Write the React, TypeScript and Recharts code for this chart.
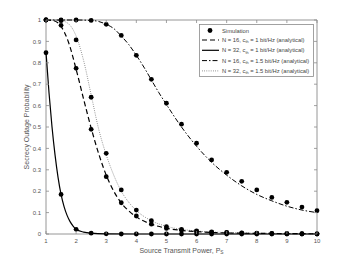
import React from "react";
import {
  ComposedChart,
  Line,
  Scatter,
  XAxis,
  YAxis,
  Legend,
  ReferenceArea,
} from "recharts";

// x positions of the simulation points (0.5 steps)
const simX = [1, 1.5, 2, 2.5, 3, 3.5, 4, 4.5, 5, 5.5, 6, 6.5, 7, 7.5, 8, 8.5, 9, 9.5, 10];

const simN16c1 = [1, 0.975, 0.774, 0.489, 0.268, 0.146, 0.084, 0.046, 0.026, 0.018, 0.012, 0.008, 0.006, 0.004, 0.003, 0.002, 0.002, 0.001, 0.001];
const simN32c1 = [0.847, 0.185, 0.022, 0.004, 0.001, 0, 0, 0, 0, 0, 0, 0, 0, 0, 0, 0, 0, 0, 0];
const simN16c15 = [1, 1, 1, 0.998, 0.98, 0.928, 0.835, 0.723, 0.611, 0.513, 0.424, 0.346, 0.288, 0.246, 0.206, 0.171, 0.148, 0.126, 0.109];
const simN32c15 = [1, 0.997, 0.907, 0.639, 0.377, 0.206, 0.112, 0.062, 0.034, 0.022, 0.015, 0.01, 0.007, 0.005, 0.004, 0.003, 0.002, 0.002, 0.001];

// analytical curves
const solidX = [1, 1.1, 1.2, 1.3, 1.4, 1.5, 1.6, 1.7, 1.8, 1.9, 2, 2.25, 2.5, 3, 4, 6, 10];
const solidY = [0.85, 0.66, 0.5, 0.37, 0.265, 0.185, 0.128, 0.087, 0.058, 0.037, 0.022, 0.009, 0.004, 0.001, 0, 0, 0];

const dashedX = [1, 1.25, 1.5, 1.75, 2, 2.25, 2.5, 2.75, 3, 3.25, 3.5, 3.75, 4, 4.5, 5, 5.5, 6, 7, 8, 9, 10];
const dashedY = [1, 0.997, 0.97, 0.895, 0.77, 0.63, 0.495, 0.375, 0.275, 0.2, 0.145, 0.108, 0.08, 0.046, 0.027, 0.017, 0.011, 0.005, 0.003, 0.002, 0.001];

const dottedX = [1, 1.25, 1.5, 1.75, 2, 2.25, 2.5, 2.75, 3, 3.25, 3.5, 3.75, 4, 4.5, 5, 5.5, 6, 7, 8, 9, 10];
const dottedY = [1, 1, 0.997, 0.982, 0.925, 0.81, 0.65, 0.49, 0.37, 0.275, 0.2, 0.148, 0.11, 0.062, 0.036, 0.022, 0.014, 0.007, 0.004, 0.002, 0.001];

const dashDotX = [1, 2, 2.5, 2.75, 3, 3.25, 3.5, 3.75, 4, 4.25, 4.5, 4.75, 5, 5.5, 6, 6.5, 7, 7.5, 8, 8.5, 9, 9.5, 10];
const dashDotY = [1, 1, 0.998, 0.993, 0.98, 0.96, 0.925, 0.885, 0.835, 0.78, 0.72, 0.66, 0.605, 0.5, 0.41, 0.335, 0.275, 0.225, 0.185, 0.155, 0.13, 0.112, 0.1];

const xTicks = [1, 2, 3, 4, 5, 6, 7, 8, 9, 10];
const yTicks = [0, 0.1, 0.2, 0.3, 0.4, 0.5, 0.6, 0.7, 0.8, 0.9, 1];

const zip = (xs: number[], ys: number[]) => xs.map((x, i) => ({ x, y: ys[i] }));

const W = 350;
const H = 263;
const LEFT = 46;
const RIGHT = 317;
const TOP = 20;
const BOTTOM = 234;
const FONT = "'Liberation Sans', Arial, sans-serif";
const FRAME = "#8a8a8a";
const TEXT = "#555";

const XTick = ({ x, payload }: any) => (
  <g>
    <line x1={x} x2={x} y1={BOTTOM} y2={BOTTOM - 3} stroke={FRAME} strokeWidth={0.8} />
    <line x1={x} x2={x} y1={TOP} y2={TOP + 3} stroke={FRAME} strokeWidth={0.8} />
    <text x={x} y={BOTTOM + 9} textAnchor="middle" fontSize={6} fill={TEXT} fontFamily={FONT}>
      {payload.value}
    </text>
  </g>
);

const YTick = ({ y, payload }: any) => (
  <g>
    <line x1={LEFT} x2={LEFT + 3} y1={y} y2={y} stroke={FRAME} strokeWidth={0.8} />
    <line x1={RIGHT} x2={RIGHT - 3} y1={y} y2={y} stroke={FRAME} strokeWidth={0.8} />
    <text x={LEFT - 5} y={y} dy="0.35em" textAnchor="end" fontSize={6} fill={TEXT} fontFamily={FONT}>
      {String(Math.round(payload.value * 10) / 10)}
    </text>
  </g>
);

const Dot = (props: any) => <circle cx={props.cx} cy={props.cy} r={2.4} fill="#000" />;

// legend rows: label + line sample style
const legendRows = [
  { n: "16", c: "1", dash: "5 3", w: 1.2, col: "#000" },
  { n: "32", c: "1", dash: "", w: 1.2, col: "#000" },
  { n: "16", c: "1.5", dash: "5 2 1.5 2", w: 1, col: "#000" },
  { n: "32", c: "1.5", dash: "0.8 1.4", w: 0.7, col: "#444" },
];

const LegendBox = () => (
  <svg width={115} height={53} style={{ display: "block" }}>
    <rect x={0.5} y={0.5} width={114} height={52} fill="#fff" stroke={FRAME} strokeWidth={0.8} />
    <circle cx={11} cy={6.5} r={2.4} fill="#000" />
    <text x={23} y={8.5} fontSize={5.8} fill="#444" fontFamily={FONT}>Simulation</text>
    {legendRows.map((r, i) => {
      const cy = 16 + i * 10.3;
      return (
        <g key={i}>
          <line x1={3} x2={20} y1={cy} y2={cy} stroke={r.col} strokeWidth={r.w} strokeDasharray={r.dash} />
          <text x={23} y={cy + 2} fontSize={5.8} fill="#444" fontFamily={FONT}>
            {"N = " + r.n + ", c"}
            <tspan fontSize={3.8} dy={1.4}>th</tspan>
            <tspan dy={-1.4}>{" = " + r.c + " bit/Hz (analytical)"}</tspan>
          </text>
        </g>
      );
    })}
  </svg>
);

export default function App() {
  return (
    <div style={{ position: "absolute", left: 0, top: 0, width: W, height: H, background: "#fff" }}>
      <ComposedChart
        width={W}
        height={H}
        margin={{ top: TOP, right: W - RIGHT, bottom: 0, left: 0 }}
      >
        <XAxis
          dataKey="x"
          type="number"
          domain={[1, 10]}
          ticks={xTicks}
          interval={0}
          axisLine={false}
          tickLine={false}
          tick={<XTick />}
          height={H - BOTTOM}
          allowDuplicatedCategory={false}
        />
        <YAxis
          dataKey="y"
          type="number"
          domain={[0, 1]}
          ticks={yTicks}
          interval={0}
          axisLine={false}
          tickLine={false}
          tick={<YTick />}
          width={LEFT}
        />
        <ReferenceArea x1={1} x2={10} y1={0} y2={1} fill="none" stroke={FRAME} strokeWidth={0.9} />

        <Line data={zip(dashDotX, dashDotY)} dataKey="y" type="monotone" stroke="#000" strokeWidth={1} strokeDasharray="5 2 1.5 2" dot={false} activeDot={false} isAnimationActive={false} />
        <Line data={zip(dottedX, dottedY)} dataKey="y" type="monotone" stroke="#444" strokeWidth={0.7} strokeDasharray="0.8 1.4" dot={false} activeDot={false} isAnimationActive={false} />
        <Line data={zip(dashedX, dashedY)} dataKey="y" type="monotone" stroke="#000" strokeWidth={1.2} strokeDasharray="5 3" dot={false} activeDot={false} isAnimationActive={false} />
        <Line data={zip(solidX, solidY)} dataKey="y" type="monotone" stroke="#000" strokeWidth={1.2} dot={false} activeDot={false} isAnimationActive={false} />

        <Scatter data={zip(simX, simN16c15)} dataKey="y" shape={<Dot />} isAnimationActive={false} />
        <Scatter data={zip(simX, simN32c15)} dataKey="y" shape={<Dot />} isAnimationActive={false} />
        <Scatter data={zip(simX, simN16c1)} dataKey="y" shape={<Dot />} isAnimationActive={false} />
        <Scatter data={zip(simX, simN32c1)} dataKey="y" shape={<Dot />} isAnimationActive={false} />

        <Legend
          layout="horizontal"
          verticalAlign="middle"
          align="center"
          content={() => <LegendBox />}
          wrapperStyle={{ left: 199, top: 24, width: 115, height: 53 }}
        />

        <text x={(LEFT + RIGHT) / 2} y={252.5} textAnchor="middle" fontSize={7} fill={TEXT} fontFamily={FONT}>
          Source Transmit Power, P
          <tspan fontSize={4.8} dy={1.8}>S</tspan>
        </text>
        <text
          x={29}
          y={(TOP + BOTTOM) / 2}
          textAnchor="middle"
          fontSize={7}
          fill={TEXT}
          fontFamily={FONT}
          transform={`rotate(-90 29 ${(TOP + BOTTOM) / 2})`}
        >
          Secrecy Outage Probability
        </text>
      </ComposedChart>
    </div>
  );
}
